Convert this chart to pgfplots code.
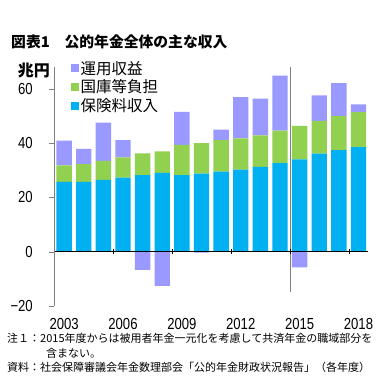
\documentclass[border=0pt]{standalone}
\usepackage{pgfplots}
\pgfplotsset{compat=1.18}
\usepackage{fontspec}
\usepackage{graphicx}
\setmainfont{Noto Sans CJK JP}
\newfontfamily\numfont{Liberation Sans}
\definecolor{cBlue}{HTML}{00B0F0}
\definecolor{cGreen}{HTML}{92D050}
\definecolor{cPurple}{HTML}{9999FF}
\newcommand{\nl}[1]{\scalebox{0.82}[1]{\numfont\fontsize{16}{16}\selectfont #1}}
\begin{document}
\begin{tikzpicture}
\useasboundingbox (0pt,0pt) rectangle (387pt,-382pt);
\node[anchor=west,font=\fontsize{14.8}{15}\selectfont\bfseries,inner sep=0] at (11pt,-42pt) {図表1　公的年金全体の主な収入};
\node[anchor=east,font=\fontsize{16}{16}\selectfont\bfseries,inner sep=0] at (50pt,-71pt) {兆円};

% negative investment returns (drawn from 0 downwards)
\begin{axis}[at={(54.3pt,-306pt)}, anchor=south west, scale only axis,
  width=314pt, height=239pt, xmin=2002.5, xmax=2018.5, ymin=-20, ymax=68,
  hide axis, ybar, bar width=15.3pt]
\addplot[fill=cPurple, draw=none] coordinates {(2007,-6.7) (2008,-12.6) (2010,-0.3) (2015,-5.8)};
\end{axis}

\begin{axis}[at={(54.3pt,-306pt)}, anchor=south west, scale only axis,
  width=314pt, height=239pt, xmin=2002.5, xmax=2018.5, ymin=-20, ymax=68,
  ybar stacked, bar width=15.3pt,
  axis y line*=left, axis x line*=middle,
  hide obscured x ticks=false, hide obscured y ticks=false,
  y axis line style={gray}, x axis line style={black},
  ytick={-20,0,20,40,60},
  yticklabels={\nl{−20},\nl{0},\nl{20},\nl{40},\nl{60}},
  yticklabel style={xshift=-13pt},
  ytick style={gray}, ytick align=outside,
  xtick={2002.5,2005.5,2008.5,2011.5,2014.5,2017.5},
  xticklabels={},
  xtick style={black}, xtick align=center,
  major tick length=5pt,
  extra x ticks={2003,2006,2009,2012,2015,2018},
  extra x tick labels={\nl{2003},\nl{2006},\nl{2009},\nl{2012},\nl{2015},\nl{2018}},
  extra x tick style={major tick length=0pt, xticklabel style={yshift=-63pt}},
  axis on top,
  reverse legend,
  legend image code/.code={\fill[#1,draw=none] (0pt,-4pt) rectangle (8pt,4pt);},
  legend style={at={(0.0436,1.04)}, anchor=north west, draw=none, fill=none,
    font=\fontsize{15.5}{16}\selectfont, row sep=1pt,
    nodes={inner sep=1.5pt, anchor=west}},
]
\addplot[fill=cBlue, draw=none] coordinates {
(2003,25.7) (2004,25.7) (2005,26.4) (2006,27.3) (2007,28.2) (2008,29.0)
(2009,28.2) (2010,28.7) (2011,29.5) (2012,30.2) (2013,31.2) (2014,32.6)
(2015,34.0) (2016,36.1) (2017,37.4) (2018,38.5)};
\addlegendentry{保険料収入}
\addplot[fill=cGreen, draw=none] coordinates {
(2003,6.1) (2004,6.5) (2005,7.0) (2006,7.4) (2007,8.0) (2008,7.9)
(2009,11.1) (2010,11.3) (2011,11.6) (2012,11.5) (2013,11.6) (2014,12.0)
(2015,12.3) (2016,12.1) (2017,12.5) (2018,12.9)};
\addlegendentry{国庫等負担}
\addplot[fill=cPurple, draw=none] coordinates {
(2003,9.1) (2004,5.7) (2005,14.1) (2006,6.4) (2007,0) (2008,0)
(2009,12.2) (2010,0) (2011,3.8) (2012,15.2) (2013,13.6) (2014,20.2)
(2015,0) (2016,9.4) (2017,12.2) (2018,2.8)};
\addlegendentry{運用収益}
\draw[gray, line width=0.5pt] (axis cs:2014.5,-15) -- (axis cs:2014.5,68);
\end{axis}

\node[anchor=west,font=\fontsize{11}{11}\selectfont,inner sep=0] at (7pt,-338.5pt) {注１：2015年度からは被用者年金一元化を考慮して共済年金の職域部分を};
\node[anchor=west,font=\fontsize{11}{11}\selectfont,inner sep=0] at (46pt,-353pt) {含まない。};
\node[anchor=west,font=\fontsize{11}{11}\selectfont,inner sep=0] at (7pt,-367pt) {資料：社会保障審議会年金数理部会「公的年金財政状況報告」（各年度）};
\end{tikzpicture}
\end{document}
